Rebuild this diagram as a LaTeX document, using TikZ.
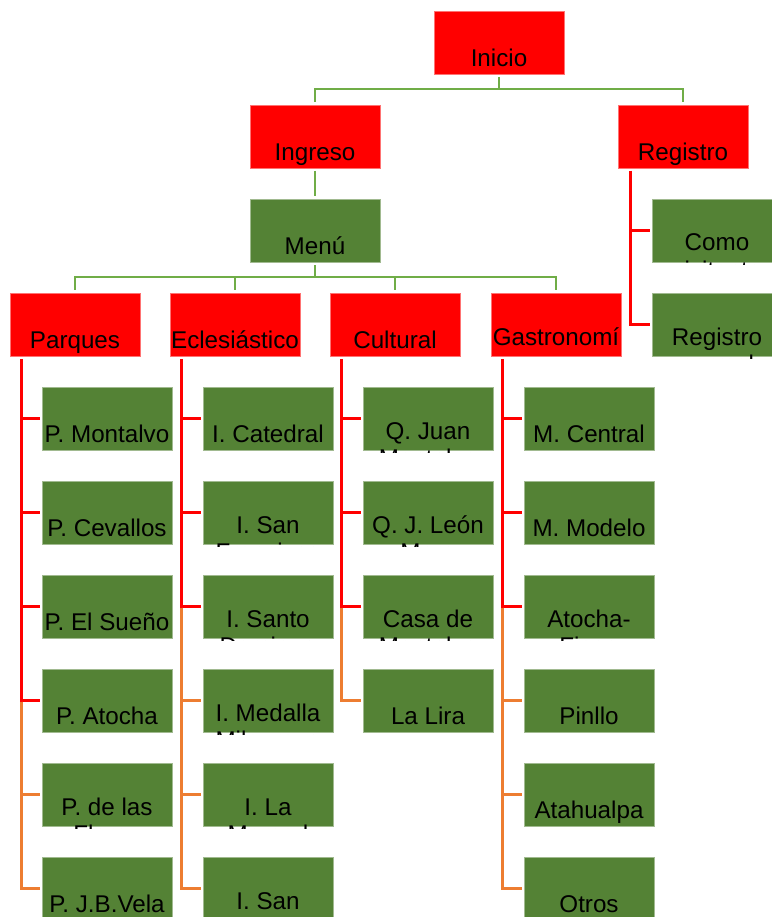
\documentclass[tikz,border=0pt]{standalone}
\usepackage{fontspec}
\setmainfont{Liberation Sans}
\definecolor{bxred}{HTML}{FF0000}
\definecolor{bxgreen}{HTML}{548235}
\definecolor{lngreen}{HTML}{70AD47}
\definecolor{lnorange}{HTML}{ED7D31}
\tikzset{
 boxst/.style={rectangle, anchor=north west, minimum width=130pt, minimum height=63pt,
   inner sep=0pt, outer sep=0pt, draw=#1!55!white, line width=0.8pt, fill=#1},
 lbl/.style={anchor=base, inner sep=0pt, outer sep=0pt, font=\fontsize{24.2}{27}\selectfont, text=black},
 gline/.style={draw=lngreen, line width=2.5pt},
 rline/.style={draw=bxred, line width=2.4pt},
 oline/.style={draw=lnorange, line width=2.4pt},
}
\newcommand\mkone[5]{%
  \node[boxst=#4] (#1) at (#2,#3) {};
  \node[lbl] (#1-a) at ([yshift=7.5pt]#1.south) {#5};
}
\newcommand\mktwo[6]{%
  \node[boxst=#4] (#1) at (#2,#3) {};
  \begin{scope}
  \clip (#1.north west) rectangle ([yshift=-2.5pt]#1.south east);
  \node[lbl] (#1-a) at ([yshift=11pt]#1.south) {#5};
  \node[lbl] (#1-b) at ([yshift=-16pt]#1.south) {#6};
  \end{scope}
}
\begin{document}
\begin{tikzpicture}[x=1pt,y=-1pt]
\fill[white] (0,0) rectangle (771,917);
\useasboundingbox (0,0) rectangle (771,917);

% top levels
\mkone{inicio}{434}{11}{bxred}{Inicio}
\mkone{ingreso}{250}{105}{bxred}{Ingreso}
\mkone{registro}{618}{105}{bxred}{Registro}
\mkone{menu}{250}{199}{bxgreen}{Menú}
\mktwo{rv}{652}{199}{bxgreen}{Como}{visitante}
\mktwo{rn}{652}{293}{bxgreen}{Registro}{normal}

% categories
\mkone{parques}{10}{293}{bxred}{Parques}
\mkone{ecles}{170}{293}{bxred}{Eclesiástico}
\mkone{cultural}{330}{293}{bxred}{Cultural}
\mktwo{gastro}{491}{293}{bxred}{Gastronomí}{a}

% Parques
\mkone{p1}{42}{387}{bxgreen}{P. Montalvo}
\mkone{p2}{42}{481}{bxgreen}{P. Cevallos}
\mkone{p3}{42}{575}{bxgreen}{P. El Sueño}
\mkone{p4}{42}{669}{bxgreen}{P. Atocha}
\mktwo{p5}{42}{763}{bxgreen}{P. de las}{Flores}
\mkone{p6}{42}{857}{bxgreen}{P. J.B.Vela}

% Eclesiastico
\mkone{e1}{203}{387}{bxgreen}{I. Catedral}
\mktwo{e2}{203}{481}{bxgreen}{I. San}{Francisco}
\mktwo{e3}{203}{575}{bxgreen}{I. Santo}{Domingo}
\mktwo{e4}{203}{669}{bxgreen}{I. Medalla}{Milagrosa}
\mktwo{e5}{203}{763}{bxgreen}{I. La}{Merced}
\mktwo{e6}{203}{857}{bxgreen}{I. San}{}

% Cultural
\mktwo{c1}{363}{387}{bxgreen}{Q. Juan}{Montalvo}
\mktwo{c2}{363}{481}{bxgreen}{Q. J. León}{Mera}
\mktwo{c3}{363}{575}{bxgreen}{Casa de}{Montalvo}
\mkone{c4}{363}{669}{bxgreen}{La Lira}

% Gastronomia
\mkone{g1}{524}{387}{bxgreen}{M. Central}
\mkone{g2}{524}{481}{bxgreen}{M. Modelo}
\mktwo{g3}{524}{575}{bxgreen}{Atocha-}{Ficoa}
\mkone{g4}{524}{669}{bxgreen}{Pinllo}
\mkone{g5}{524}{763}{bxgreen}{Atahualpa}
\mkone{g6}{524}{857}{bxgreen}{Otros}

% green connectors
\draw[gline] ([yshift=-3pt]inicio.south) -- ++(0,12) coordinate (jt) -| ([yshift=3pt]ingreso.north);
\draw[gline] (jt) -| ([yshift=3pt]registro.north);
\draw[gline] ([yshift=-3pt]ingreso.south) -- ([yshift=3pt]menu.north);
\draw[gline] ([yshift=-3pt]menu.south) -- ++(0,12) coordinate (jm) -| ([yshift=3pt]parques.north);
\foreach \c in {ecles,cultural,gastro} \draw[gline] (jm) -| ([yshift=3pt]\c.north);

% Registro
\coordinate (vreg) at ([xshift=12.5pt,yshift=-3pt]registro.south west);
\foreach \c in {rv,rn} \draw[rline] (vreg) |- ([xshift=-2.5pt]\c.west);

% Parques
\coordinate (vpar) at ([xshift=11.5pt,yshift=-3pt]parques.south west);
\foreach \c in {p1,p2,p3,p4} \draw[rline] (vpar) |- ([xshift=-2.5pt]\c.west);
\foreach \c in {p5,p6} \draw[oline] ([yshift=-1.2pt]vpar |- p4.west) |- ([xshift=-2.5pt]\c.west);

% Eclesiastico
\coordinate (vecl) at ([xshift=11.5pt,yshift=-3pt]ecles.south west);
\foreach \c in {e1,e2,e3} \draw[rline] (vecl) |- ([xshift=-2.5pt]\c.west);
\foreach \c in {e4,e5,e6} \draw[oline] ([yshift=-1.2pt]vecl |- e3.west) |- ([xshift=-2.5pt]\c.west);

% Cultural
\coordinate (vcul) at ([xshift=11.5pt,yshift=-3pt]cultural.south west);
\foreach \c in {c1,c2,c3} \draw[rline] (vcul) |- ([xshift=-2.5pt]\c.west);
\foreach \c in {c4} \draw[oline] ([yshift=-1.2pt]vcul |- c3.west) |- ([xshift=-2.5pt]\c.west);

% Gastronomia
\coordinate (vgas) at ([xshift=11.5pt,yshift=-3pt]gastro.south west);
\foreach \c in {g1,g2,g3} \draw[rline] (vgas) |- ([xshift=-2.5pt]\c.west);
\foreach \c in {g4,g5,g6} \draw[oline] ([yshift=-1.2pt]vgas |- g3.west) |- ([xshift=-2.5pt]\c.west);
\end{tikzpicture}
\end{document}
